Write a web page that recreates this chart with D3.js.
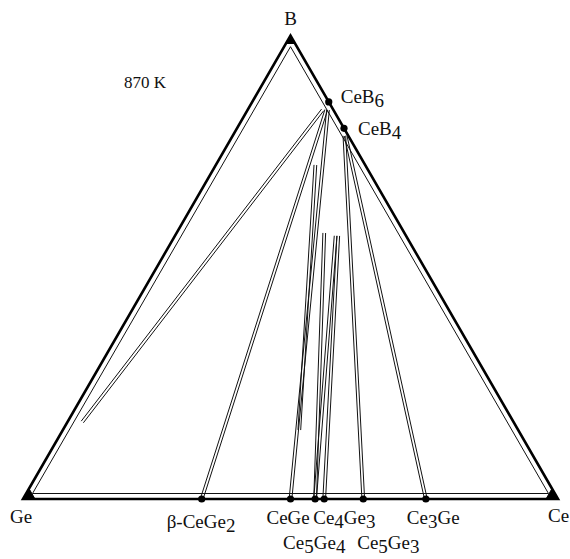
<!DOCTYPE html>
<html>
<head>
<meta charset="utf-8">
<script src="https://cdn.jsdelivr.net/npm/d3@7/dist/d3.min.js"></script>
<style>
  html, body { margin: 0; padding: 0; background: #fff; }
  svg text { font-family: "Liberation Serif", "DejaVu Serif", serif; fill: #111; }
</style>
</head>
<body>
<svg id="chart" width="570" height="559"></svg>
<script>
// Corners of the Ge–Ce–B isothermal section (atomic fractions of Ce and B)
const cornerNames = ["Ge", "Ce", "B"];
const cornerCe = [0, 1, 0];
const cornerB = [0, 0, 1];

// Binary Ce–Ge compounds on the base (atomic fraction of Ce)
const germanideNames = ["β-CeGe_2", "CeGe", "Ce_5Ge_4", "Ce_4Ge_3", "Ce_5Ge_3", "Ce_3Ge"];
const germanideCe = [0.334, 0.5, 0.546, 0.563, 0.636, 0.753];

// Binary Ce–B compounds on the right edge (atomic fraction of B)
const borideNames = ["CeB_6", "CeB_4"];
const borideB = [0.857, 0.8];

// Tie lines: boride end, opposite end, and the drawn stretch (fraction along the line)
const tieFrom  = ["CeB_6", "CeB_6", "CeB_6", "CeB_6", "CeB_4", "CeB_4", "CeB_4", "CeB_4"];
const tieTo    = ["Ge", "β-CeGe_2", "CeGe", "Ce_5Ge_4", "Ce_5Ge_4", "Ce_4Ge_3", "Ce_5Ge_3", "Ce_3Ge"];
const tieStart = [0.02, 0.02, 0.02, 0.33, 0.29, 0.29, 0.02, 0.02];
const tieEnd   = [0.806, 1, 1, 1, 1, 1, 1, 1];

// Loose tie segment between CeB6 and CeGe (Ce, B fractions at each end)
const segStartCe = [0.186];
const segStartB  = [0.721];
const segEndCe   = [0.442];
const segEndB    = [0.149];

const temperatureLabel = "870 K";

// ---------------------------------------------------------------------------
const svg = d3.select("#chart");

// Ternary projection: horizontal position from Ce + B/2, height from B
const xScale = d3.scaleLinear().domain([0, 1]).range([23, 558]);
const yScale = d3.scaleLinear().domain([0, 1]).range([499, 35.7]);
const project = (ce, b) => [xScale(ce + b / 2), yScale(b)];

// Composition lookup by phase name
const comp = {};
cornerNames.forEach((n, i) => comp[n] = { ce: cornerCe[i], b: cornerB[i] });
germanideNames.forEach((n, i) => comp[n] = { ce: germanideCe[i], b: 0 });
borideNames.forEach((n, i) => comp[n] = { ce: 1 - borideB[i], b: borideB[i] });
const pos = n => project(comp[n].ce, comp[n].b);

// Outer frame
const corners = cornerNames.map(pos);
svg.append("path")
  .attr("d", d3.line()(corners) + "Z")
  .attr("fill", "none").attr("stroke", "#000")
  .attr("stroke-width", 2.6).attr("stroke-linejoin", "miter");

// Inner frame line, offset inward
const cx = d3.mean(corners, d => d[0]);
const cy = d3.mean(corners, d => d[1]);
const inr = Math.abs(cy - corners[0][1]);
const shrink = (inr - 5.5) / inr;
const inner = corners.map(([x, y]) => [cx + (x - cx) * shrink, cy + (y - cy) * shrink]);
svg.append("path")
  .attr("d", d3.line()(inner) + "Z")
  .attr("fill", "none").attr("stroke", "#111").attr("stroke-width", 1);

// Filled corner wedges
corners.forEach((c, i) => {
  const a = corners[(i + 1) % 3], b = corners[(i + 2) % 3];
  const along = (p, len) => {
    const dx = p[0] - c[0], dy = p[1] - c[1], L = Math.hypot(dx, dy);
    return [c[0] + dx / L * len, c[1] + dy / L * len];
  };
  const size = i === 2 ? 9 : 12;
  svg.append("path")
    .attr("d", d3.line()([c, along(a, size), along(b, size)]) + "Z")
    .attr("fill", "#000").attr("stroke", "#000").attr("stroke-width", 1);
});

// Double-stroked segment between two pixel points
function doubleLine(p0, p1, gap = 1.35) {
  const dx = p1[0] - p0[0], dy = p1[1] - p0[1], L = Math.hypot(dx, dy);
  const nx = -dy / L * gap, ny = dx / L * gap;
  [-1, 1].forEach(s => {
    svg.append("line")
      .attr("x1", p0[0] + nx * s).attr("y1", p0[1] + ny * s)
      .attr("x2", p1[0] + nx * s).attr("y2", p1[1] + ny * s)
      .attr("stroke", "#111").attr("stroke-width", 1);
  });
}

// Tie lines
tieFrom.forEach((f, i) => {
  const a = comp[f], b = comp[tieTo[i]];
  const at = t => project(a.ce + (b.ce - a.ce) * t, a.b + (b.b - a.b) * t);
  doubleLine(at(tieStart[i]), at(tieEnd[i]));
});
segStartCe.forEach((c, i) => {
  doubleLine(project(c, segStartB[i]), project(segEndCe[i], segEndB[i]));
});

// Compound points
[...germanideNames, ...borideNames].forEach(n => {
  const [x, y] = pos(n);
  svg.append("circle").attr("cx", x).attr("cy", y).attr("r", 3.6).attr("fill", "#000");
});

// Label writer: "_d" marks a subscript digit
const SUB_SHIFT = 4;
function label(text, x, y, anchor = "start") {
  const t = svg.append("text").attr("x", x).attr("y", y)
    .attr("font-size", 19).attr("text-anchor", anchor);
  let lowered = false;
  text.split(/(_\d)/).filter(s => s.length).forEach(part => {
    const isSub = part[0] === "_";
    const dy = isSub ? (lowered ? 0 : SUB_SHIFT) : (lowered ? -SUB_SHIFT : 0);
    t.append("tspan").attr("dy", dy).text(isSub ? part.slice(1) : part);
    lowered = isSub;
  });
}

// Label placement relative to each point
const labelOffset = {
  "Ge": [-13, 24], "Ce": [-10, 23], "B": [0, -11, "middle"],
  "β-CeGe_2": [-35, 29], "CeGe": [-24, 25], "Ce_5Ge_4": [-32, 50],
  "Ce_4Ge_3": [-11, 25], "Ce_5Ge_3": [-6, 50], "Ce_3Ge": [-19, 25],
  "CeB_6": [12, 1], "CeB_4": [14, 7]
};
Object.keys(labelOffset).forEach(n => {
  const [x, y] = pos(n);
  const [dx, dy, anchor] = labelOffset[n];
  label(n, x + dx, y + dy, anchor || "start");
});

svg.append("text").attr("x", 124).attr("y", 88).attr("font-size", 17).text(temperatureLabel);
</script>
</body>
</html>
